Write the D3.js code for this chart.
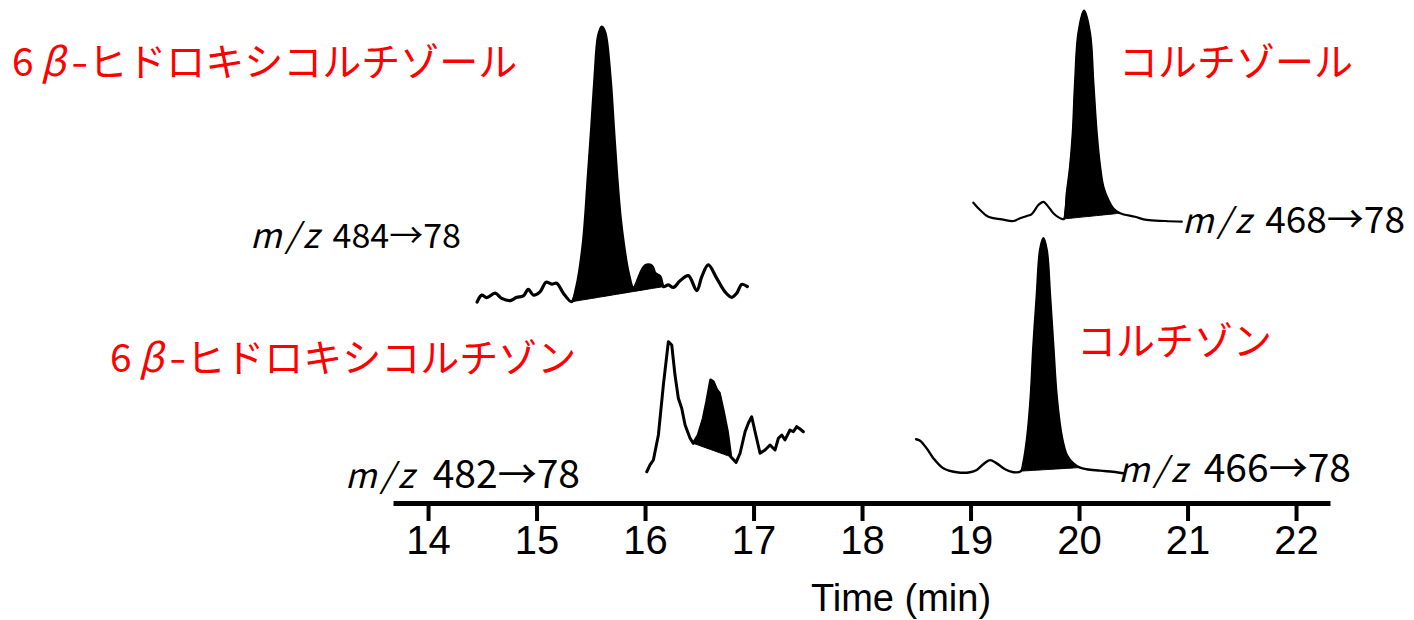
<!DOCTYPE html>
<html>
<head>
<meta charset="utf-8">
<script src="https://cdn.jsdelivr.net/npm/d3@7"></script>
<style>
  html, body { margin: 0; padding: 0; background: #fff; }
  svg { display: block; }
</style>
</head>
<body>
<svg id="chart" width="1414" height="620"></svg>
<script>
// ---------------- DATA ----------------
const timeTicks = [14, 15, 16, 17, 18, 19, 20, 21, 22];
const axisTitle = "Time (min)";

// m/z 484→78 (6β-hydroxycortisol)
const t484 = [14.452,14.495,14.541,14.618,14.679,14.756,14.818,14.878,14.924,14.971,15.032,15.088,15.140,15.186,15.247,
  15.324,15.371,15.431,15.477,15.509,15.539,15.570,15.601,15.631,15.677,15.708,15.739,15.770,15.800,15.846,15.892,
  16.000,16.062,16.092,16.138,16.169,16.215,16.261,16.323,16.399,16.477,16.523,16.583,16.661,16.737,16.799,16.845,16.891,16.943];
const i484 = [0,2.5,1.6,3.2,1.3,0.5,1.7,2.2,4.6,2.5,3.7,7.2,6.5,6.8,3.2,
  0.1,5.6,21.3,45.6,63.7,81.9,96.5,100,97.7,81.9,63.7,45.6,31.0,21.3,10.4,5.1,
  13.1,13.1,10.4,9.2,5.6,6.2,5.3,7.7,9.6,4.1,9.2,13.5,8.6,3.7,1.7,3.2,6.4,5.6];
const fill484 = [15.324, 16.169];

// m/z 468→78 (cortisol)
const t468 = [19.026,19.088,19.164,19.288,19.394,19.456,19.518,19.564,19.625,19.671,19.717,19.763,19.841,19.862,
  19.887,19.917,19.942,19.963,19.994,20.046,20.101,20.132,20.163,20.194,20.224,20.270,20.316,20.378,
  20.516,20.624,20.793,20.947];
const i468 = [8.7,5.2,2.0,0.8,0,1.3,2.4,3.3,7.6,9.1,6.8,3.7,1.0,1.0,
  13.2,25.8,41.7,65.5,89.3,100,89.3,65.5,41.7,25.8,16.3,10.0,6.0,3.7,
  2.0,0.5,0,-0.3];
const fill468 = [19.862, 20.378];

// m/z 482→78 (6β-hydroxycortisone)
const t482 = [16.016,16.046,16.077,16.123,16.169,16.215,16.246,16.276,16.307,16.338,16.369,16.415,16.445,
  16.491,16.537,16.569,16.605,16.629,16.661,16.685,16.722,16.759,16.790,16.839,16.876,16.922,16.952,16.983,
  17.014,17.060,17.106,17.152,17.198,17.229,17.260,17.290,17.336,17.367,17.398,17.429,17.459];
const i482 = [0.2,5.4,9.2,28.4,66.8,100,97.5,74.4,56.6,48.9,36.1,25.9,22.0,
  28.4,41.2,54.0,70.6,69.3,62.9,60.4,46.3,30.9,11.7,7.4,14.4,30.9,37.4,42.4,
  30.9,14.4,16.9,20.7,16.9,25.9,28.4,24.6,32.2,30.9,34.8,33.0,30.9];
const fill482 = [16.445, 16.790];

// m/z 466→78 (cortisone)
const t466 = [18.498,18.535,18.596,18.657,18.749,18.873,18.995,19.057,19.134,19.180,19.241,19.318,19.394,19.465,
  19.486,19.523,19.555,19.579,19.610,19.641,19.671,19.702,19.733,19.763,19.794,19.841,19.887,19.947,20.009,
  20.071,20.194,20.347,20.408];
const i466 = [14.2,13.6,10.3,6.1,1.8,0.1,0.1,1.1,4.2,5.3,3.9,1.4,0.1,0.6,
  3.9,15.3,32.4,53.7,75.1,95.0,100,95.0,75.1,53.7,32.4,15.3,7.5,3.9,2.1,
  1.4,0.8,0.1,-0.3];
const fill466 = [19.465, 20.009];

const compoundPrefix = ["6", "β", "-"];
const compoundNames = ["ヒドロキシコルチゾール", "コルチゾール", "ヒドロキシコルチゾン", "コルチゾン"];
const transitions = ["484→78", "468→78", "482→78", "466→78"];

// ---------------- LAYOUT / STYLE ----------------
const svg = d3.select("#chart");
const x = d3.scaleLinear().domain([13.677, 22.313]).range([393, 1330]);
const axisY = 503;

const traces = [
  { t: t484, i: i484, fill: fill484, base: 302, top: 27, sw: 3.2, curve: d3.curveCatmullRom.alpha(0.5) },
  { t: t468, i: i468, fill: fill468, base: 221, top: 10.7, sw: 2.2, curve: d3.curveCatmullRom.alpha(0.5) },
  { t: t482, i: i482, fill: fill482, base: 472, top: 341.7, sw: 3, curve: d3.curveLinear },
  { t: t466, i: i466, fill: fill466, base: 472.5, top: 238.3, sw: 2.4, curve: d3.curveCatmullRom.alpha(0.5) }
];

traces.forEach(tr => {
  const y = d3.scaleLinear().domain([0, 100]).range([tr.base, tr.top]);
  const pts = tr.t.map((t, k) => ({ t: t, v: tr.i[k] }));
  const a = pts.find(p => p.t === tr.fill[0]);
  const b = pts.find(p => p.t === tr.fill[1]);
  const baseAt = t => a.v + (b.v - a.v) * (t - a.t) / (b.t - a.t);
  const inWin = pts.filter(p => p.t >= tr.fill[0] && p.t <= tr.fill[1]);
  const area = d3.area().curve(tr.curve)
    .x(d => x(d.t)).y0(d => y(baseAt(d.t))).y1(d => y(d.v));
  svg.append("path").attr("d", area(inWin)).attr("fill", "#000").attr("stroke", "#000").attr("stroke-width", 1);
  const line = d3.line().curve(tr.curve).x(d => x(d.t)).y(d => y(d.v));
  svg.append("path").attr("d", line(pts)).attr("fill", "none").attr("stroke", "#000")
    .attr("stroke-width", tr.sw).attr("stroke-linejoin", "round").attr("stroke-linecap", "round");
});

// Axis
const latin = "'Liberation Sans', Arial, sans-serif";
const axis = d3.axisBottom(x).tickValues(timeTicks).tickSize(18).tickSizeOuter(0).tickPadding(5)
  .tickFormat(d3.format("d"));
const gAxis = svg.append("g").attr("transform", `translate(0,${axisY})`).call(axis);
gAxis.select(".domain").attr("stroke", "#000").attr("stroke-width", 5);
gAxis.selectAll(".tick line").attr("stroke", "#000").attr("stroke-width", 4);
gAxis.selectAll(".tick text").attr("fill", "#000")
  .style("font-family", latin).style("font-size", "40px");

svg.append("text").attr("x", 901).attr("y", 611).attr("text-anchor", "middle")
  .style("font-family", latin).style("font-size", "38px").text(axisTitle);

// Compound labels
const jp = "'Noto Sans CJK JP', sans-serif";
const nameLabels = [
  { text: compoundNames[0], prefix: true, x: 12, y: 76 },
  { text: compoundNames[1], prefix: false, x: 1119, y: 76 },
  { text: compoundNames[2], prefix: true, x: 110, y: 372 },
  { text: compoundNames[3], prefix: false, x: 1077, y: 355 }
];
nameLabels.forEach(l => {
  const t = svg.append("text").attr("x", l.x).attr("y", l.y).attr("fill", "#ff0000")
    .style("font-family", jp).style("font-size", "39px");
  if (l.prefix) {
    t.append("tspan").text(compoundPrefix[0]);
    t.append("tspan").attr("dx", 7).style("font-style", "italic").text(compoundPrefix[1]);
    t.append("tspan").attr("dx", 6).attr("textLength", 17).attr("lengthAdjust", "spacingAndGlyphs").text(compoundPrefix[2]);
    t.append("tspan").attr("dx", 0).text(l.text);
  } else {
    t.text(l.text);
  }
});

const mzLabels = [
  { text: transitions[0], x: 250, y: 248, fs: 34, dx: 2 },
  { text: transitions[1], x: 1182, y: 233, fs: 37, dx: 2 },
  { text: transitions[2], x: 345, y: 488, fs: 39, dx: 6 },
  { text: transitions[3], x: 1118, y: 482, fs: 39, dx: 4 }
];
mzLabels.forEach(l => {
  const t = svg.append("text").attr("x", l.x).attr("y", l.y).attr("fill", "#000")
    .style("font-family", jp).style("font-size", "34px");
  t.append("tspan").style("font-style", "italic").attr("letter-spacing", "4px").text("m/z");
  t.append("tspan").attr("dx", l.dx).style("font-size", l.fs + "px").text(" " + l.text);
});
</script>
</body>
</html>
